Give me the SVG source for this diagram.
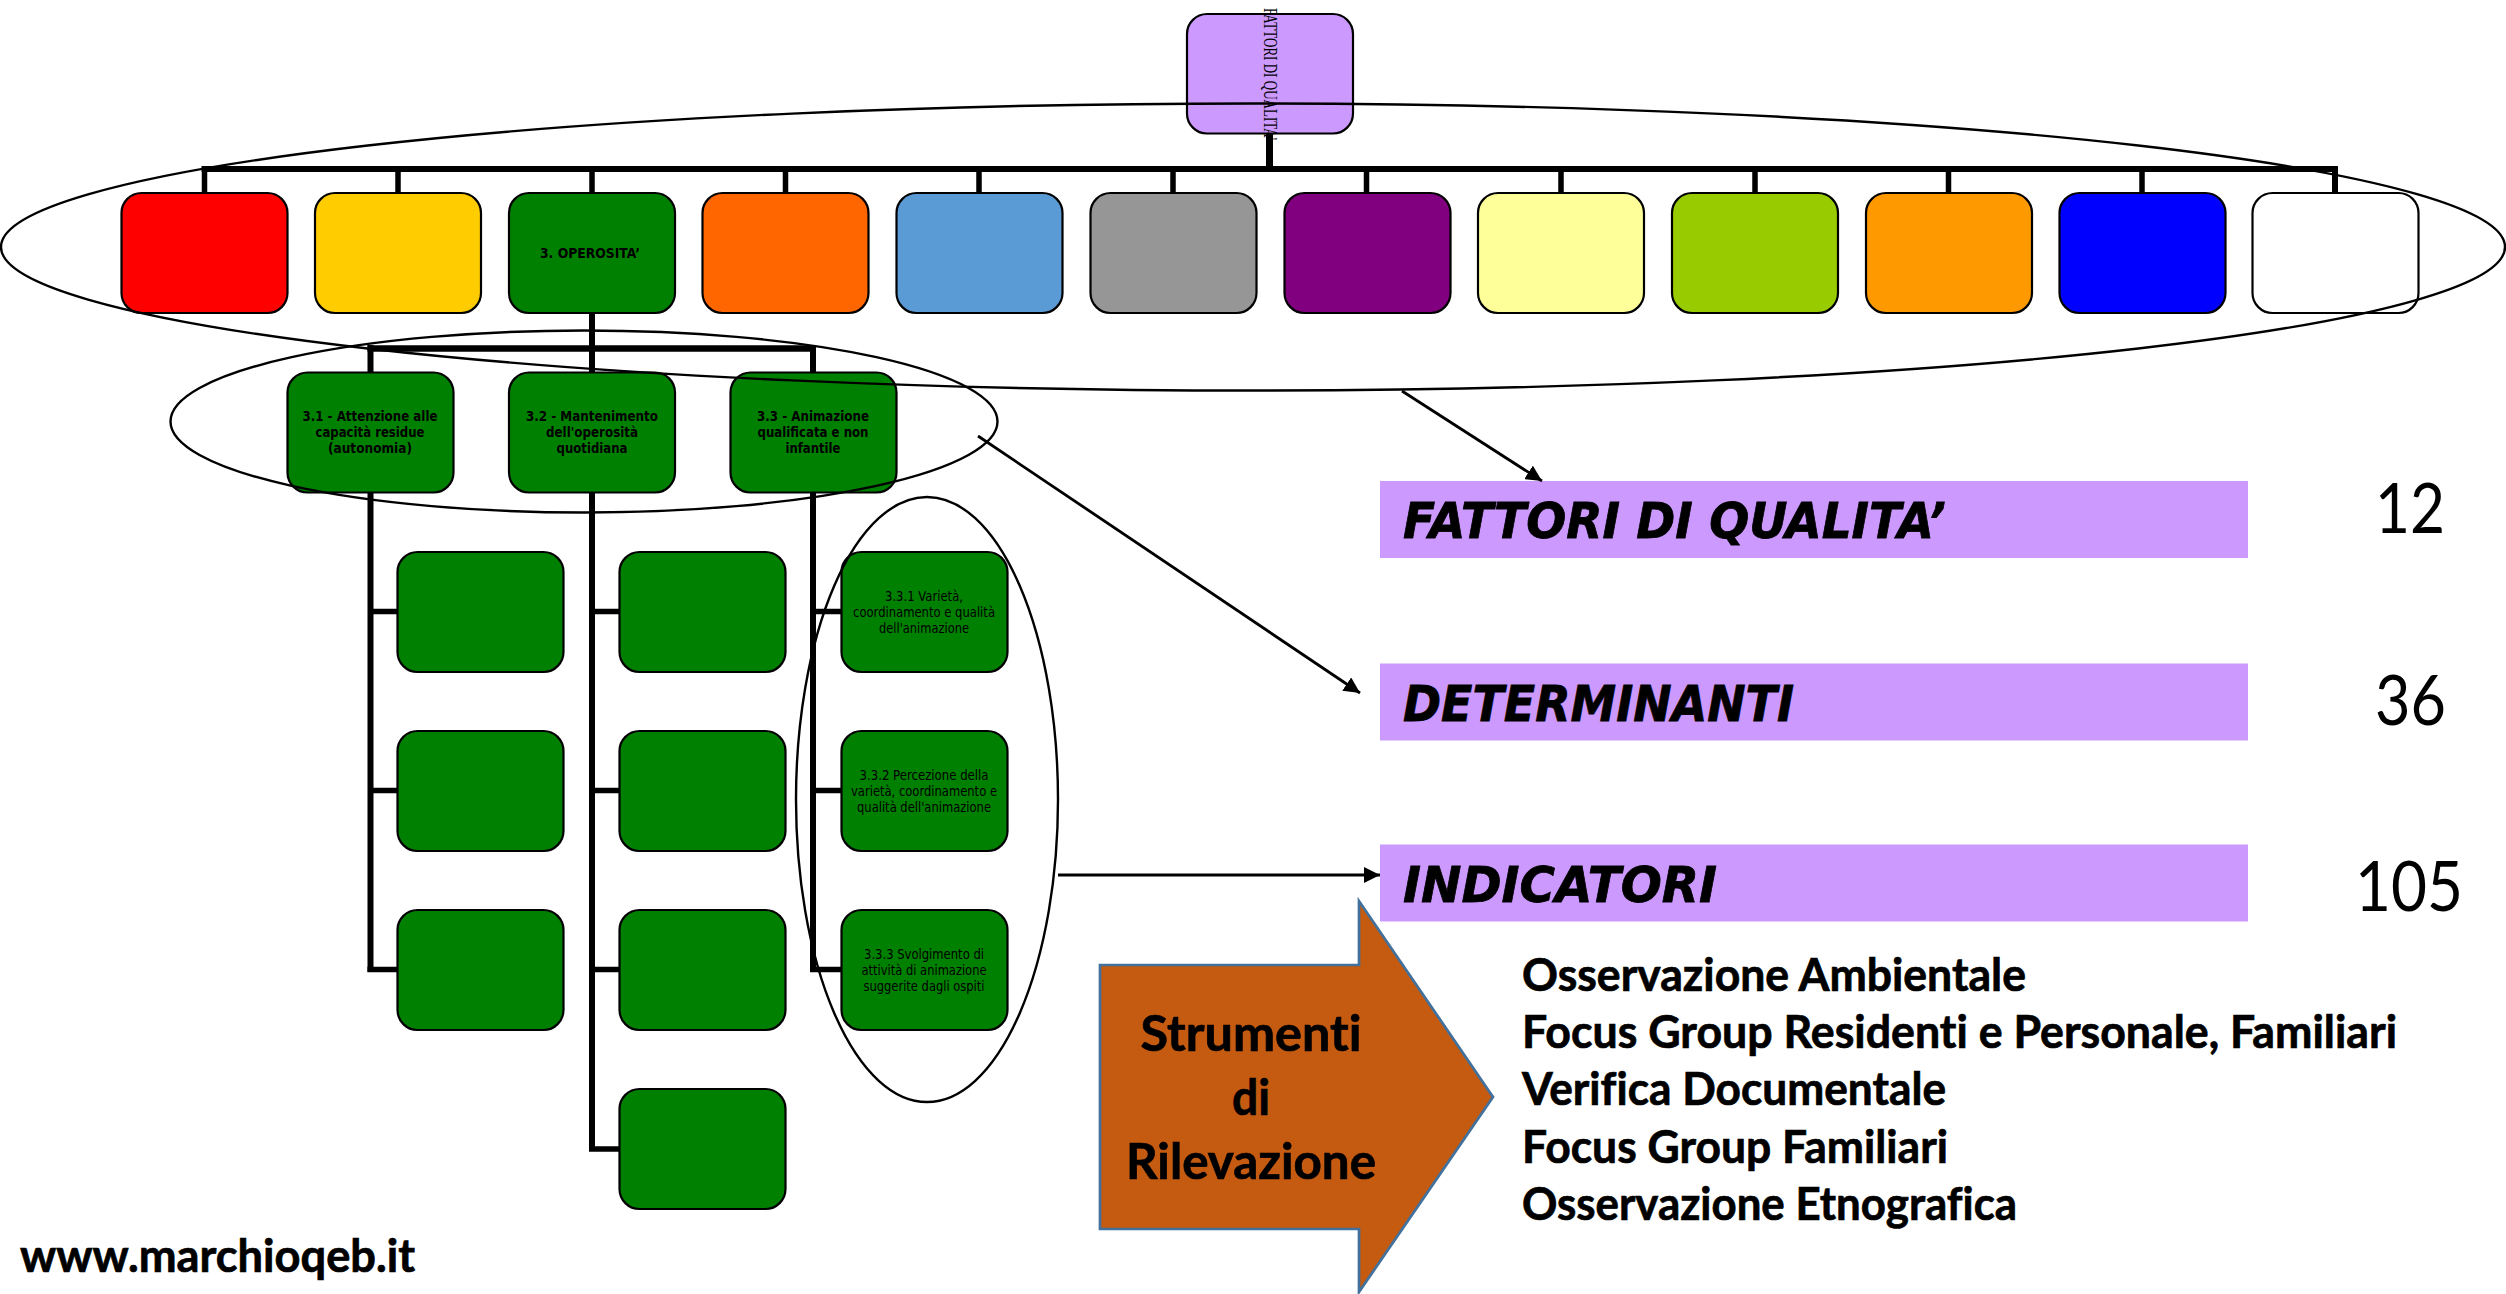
<svg xmlns="http://www.w3.org/2000/svg" width="2506" height="1294" viewBox="0 0 2506 1294">
<style>
.n{stroke:#000;stroke-width:2.2}
.g{fill:#008000}
.c{fill:none;stroke:#000;stroke-linecap:butt}
.e{fill:none;stroke:#000;stroke-width:2.4}
.a{fill:none;stroke:#000;stroke-width:2.8}
.b{fill:#CC99FF}
.vb,.v{font-family:"DejaVu Sans",Verdana,sans-serif;font-size:13.5px;fill:#000;text-anchor:middle}
.vb{font-weight:700}
.i{font-family:"DejaVu Sans",Verdana,sans-serif;font-weight:700;font-style:italic;font-size:49px;fill:#000;stroke:#000;stroke-width:.8}
.l{font-family:Lato,"Open Sans",sans-serif;font-weight:700;font-size:45px;fill:#000;stroke:#000;stroke-width:.7;font-variant-ligatures:none}
.s{font-family:Lato,"Open Sans",sans-serif;font-weight:700;font-size:49px;fill:#000;stroke:#000;stroke-width:.7;text-anchor:middle;font-variant-ligatures:none}
.d{font-family:Lato,"Open Sans",sans-serif;font-size:70px;fill:#000}
</style>
<defs>
<marker id="ah" markerUnits="userSpaceOnUse" markerWidth="18" markerHeight="16" refX="16" refY="8" orient="auto">
<path d="M0,0 L16,8 L0,16 Z" fill="#000"/>
</marker>
</defs>
<rect width="2506" height="1294" fill="#fff"/>

<g id="connectors">
<path class="c" stroke-width="7" d="M1269.500 133V172"/>
<path class="c" stroke-width="6" d="M201.500 169H2338"/>
<path class="c" stroke-width="5.500" d="M204.500 172V193M398 172V193M592 172V193M785.500 172V193M979 172V193M1173 172V193M1366.500 172V193M1561 172V193M1755 172V193M1948.500 172V193M2142 172V193"/>
<path class="c" stroke-width="6" d="M2335 172V193"/>
<path class="c" stroke-width="6" d="M592 312V372"/>
<path class="c" stroke-width="6.500" d="M367.500 348.500H816"/>
<path class="c" stroke-width="6" d="M370.500 345V372M813 345V372"/>
<path class="c" stroke-width="6" d="M370.500 492V972M592 492V1151M813 492V972"/>
<path class="c" stroke-width="5.500" d="M370.500 611.500H397M370.500 790.500H397M367.500 969.500H397M592 611.500H619M592 790.500H619M592 969.500H619M589 1149H619M813 611.500H841M813 790.500H841M810 969.500H841"/>
</g>

<g id="node-root"><rect class="n" x="1187" y="14" width="166" height="119.500" rx="20" fill="#CC99FF"/></g>
<g id="node-f1"><rect class="n" x="121.500" y="193" width="166" height="120" rx="20" fill="#FF0000"/></g>
<g id="node-f2"><rect class="n" x="315" y="193" width="166" height="120" rx="20" fill="#FFCC00"/></g>
<g id="node-f3"><rect class="n g" x="509" y="193" width="166" height="120" rx="20"/>
<text class="vb" x="590" y="258" textLength="100" lengthAdjust="spacingAndGlyphs">3. OPEROSITA’</text></g>
<g id="node-f4"><rect class="n" x="702.500" y="193" width="166" height="120" rx="20" fill="#FF6600"/></g>
<g id="node-f5"><rect class="n" x="896.500" y="193" width="166" height="120" rx="20" fill="#5B9BD5"/></g>
<g id="node-f6"><rect class="n" x="1090.500" y="193" width="166" height="120" rx="20" fill="#969696"/></g>
<g id="node-f7"><rect class="n" x="1284.500" y="193" width="166" height="120" rx="20" fill="#800080"/></g>
<g id="node-f8"><rect class="n" x="1478" y="193" width="166" height="120" rx="20" fill="#FFFF99"/></g>
<g id="node-f9"><rect class="n" x="1672" y="193" width="166" height="120" rx="20" fill="#99CC00"/></g>
<g id="node-f10"><rect class="n" x="1866" y="193" width="166" height="120" rx="20" fill="#FF9900"/></g>
<g id="node-f11"><rect class="n" x="2059.500" y="193" width="166" height="120" rx="20" fill="#0000FF"/></g>
<g id="node-f12"><rect class="n" x="2252.500" y="193" width="166" height="120" rx="20" fill="#FFFFFF"/></g>

<g id="node-3-1"><rect class="n g" x="287.500" y="372.500" width="166" height="120" rx="20"/>
<text class="vb" x="370" y="421" textLength="135" lengthAdjust="spacingAndGlyphs">3.1 - Attenzione alle</text>
<text class="vb" x="370" y="437" textLength="109" lengthAdjust="spacingAndGlyphs">capacità residue</text>
<text class="vb" x="370" y="453" textLength="84" lengthAdjust="spacingAndGlyphs">(autonomia)</text></g>
<g id="node-3-2"><rect class="n g" x="509" y="372.500" width="166" height="120" rx="20"/>
<text class="vb" x="592" y="421" textLength="132" lengthAdjust="spacingAndGlyphs">3.2 - Mantenimento</text>
<text class="vb" x="592" y="437" textLength="92" lengthAdjust="spacingAndGlyphs">dell'operosità</text>
<text class="vb" x="592" y="453" textLength="71" lengthAdjust="spacingAndGlyphs">quotidiana</text></g>
<g id="node-3-3"><rect class="n g" x="730.500" y="372.500" width="166" height="120" rx="20"/>
<text class="vb" x="813" y="421" textLength="112" lengthAdjust="spacingAndGlyphs">3.3 - Animazione</text>
<text class="vb" x="813" y="437" textLength="111" lengthAdjust="spacingAndGlyphs">qualificata e non</text>
<text class="vb" x="813" y="453" textLength="55" lengthAdjust="spacingAndGlyphs">infantile</text></g>

<g id="node-3-1-1"><rect class="n g" x="397.500" y="552" width="166" height="120" rx="20"/></g>
<g id="node-3-1-2"><rect class="n g" x="397.500" y="731" width="166" height="120" rx="20"/></g>
<g id="node-3-1-3"><rect class="n g" x="397.500" y="910" width="166" height="120" rx="20"/></g>
<g id="node-3-2-1"><rect class="n g" x="619.500" y="552" width="166" height="120" rx="20"/></g>
<g id="node-3-2-2"><rect class="n g" x="619.500" y="731" width="166" height="120" rx="20"/></g>
<g id="node-3-2-3"><rect class="n g" x="619.500" y="910" width="166" height="120" rx="20"/></g>
<g id="node-3-2-4"><rect class="n g" x="619.500" y="1089" width="166" height="120" rx="20"/></g>
<g id="node-3-3-1"><rect class="n g" x="841.500" y="552" width="166" height="120" rx="20"/>
<text class="v" x="924" y="601" textLength="78" lengthAdjust="spacingAndGlyphs">3.3.1 Varietà,</text>
<text class="v" x="924" y="617" textLength="142" lengthAdjust="spacingAndGlyphs">coordinamento e qualità</text>
<text class="v" x="924" y="633" textLength="90" lengthAdjust="spacingAndGlyphs">dell'animazione</text></g>
<g id="node-3-3-2"><rect class="n g" x="841.500" y="731" width="166" height="120" rx="20"/>
<text class="v" x="924" y="780" textLength="129" lengthAdjust="spacingAndGlyphs">3.3.2 Percezione della</text>
<text class="v" x="924" y="796" textLength="146" lengthAdjust="spacingAndGlyphs">varietà, coordinamento e</text>
<text class="v" x="924" y="812" textLength="134" lengthAdjust="spacingAndGlyphs">qualità dell'animazione</text></g>
<g id="node-3-3-3"><rect class="n g" x="841.500" y="910" width="166" height="120" rx="20"/>
<text class="v" x="924" y="959" textLength="120" lengthAdjust="spacingAndGlyphs">3.3.3 Svolgimento di</text>
<text class="v" x="924" y="975" textLength="125" lengthAdjust="spacingAndGlyphs">attività di animazione</text>
<text class="v" x="924" y="991" textLength="121" lengthAdjust="spacingAndGlyphs">suggerite dagli ospiti</text></g>

<g id="ellipses">
<ellipse class="e" cx="1253" cy="247" rx="1252" ry="143.500"/>
<ellipse class="e" cx="584" cy="421.500" rx="413.500" ry="91"/>
<ellipse class="e" cx="927" cy="799.500" rx="131" ry="302.500"/>
</g>

<text id="root-label" transform="translate(1264,8) rotate(90)" font-family="'Liberation Serif','Times New Roman',serif" font-size="18" fill="#000" textLength="132" lengthAdjust="spacingAndGlyphs">FATTORI DI QUALITA'</text>

<g id="node-fattori"><rect class="b" x="1380" y="481" width="868" height="77"/>
<text class="i" x="1403" y="538" textLength="543" lengthAdjust="spacingAndGlyphs">FATTORI DI QUALITA’</text></g>
<g id="node-determinanti"><rect class="b" x="1380" y="663.500" width="868" height="77"/>
<text class="i" x="1403" y="721" textLength="391" lengthAdjust="spacingAndGlyphs">DETERMINANTI</text></g>
<g id="node-indicatori"><rect class="b" x="1380" y="844.500" width="868" height="77"/>
<text class="i" x="1403" y="902" textLength="314" lengthAdjust="spacingAndGlyphs">INDICATORI</text></g>

<g id="arrows">
<path class="a" d="M1402 391L1542 481" marker-end="url(#ah)"/>
<path class="a" d="M978 436L1360 693" marker-end="url(#ah)"/>
<path class="a" d="M1058 875H1380" marker-end="url(#ah)"/>
</g>

<text class="d" x="2375" y="533" textLength="70" lengthAdjust="spacingAndGlyphs">12</text>
<text class="d" x="2375" y="725" textLength="71" lengthAdjust="spacingAndGlyphs">36</text>
<text class="d" x="2355" y="911" textLength="108" lengthAdjust="spacingAndGlyphs">105</text>

<g id="node-strumenti">
<path d="M1100 965H1359V901L1493 1097L1359 1292V1229H1100Z" fill="#C55A11" stroke="#41719C" stroke-width="2.700"/>
<text class="s" x="1251" y="1051" textLength="221" lengthAdjust="spacingAndGlyphs">Strumenti</text>
<text class="s" x="1251" y="1115" textLength="38" lengthAdjust="spacingAndGlyphs">di</text>
<text class="s" x="1251" y="1179" textLength="250" lengthAdjust="spacingAndGlyphs">Rilevazione</text>
</g>

<g id="list">
<text class="l" x="1522" y="991" textLength="504" lengthAdjust="spacingAndGlyphs">Osservazione Ambientale</text>
<text class="l" x="1522" y="1048" textLength="875" lengthAdjust="spacingAndGlyphs">Focus Group Residenti e Personale, Familiari</text>
<text class="l" x="1522" y="1105" textLength="424" lengthAdjust="spacingAndGlyphs">Verifica Documentale</text>
<text class="l" x="1522" y="1163" textLength="426" lengthAdjust="spacingAndGlyphs">Focus Group Familiari</text>
<text class="l" x="1522" y="1220" textLength="495" lengthAdjust="spacingAndGlyphs">Osservazione Etnografica</text>
</g>

<text class="l" x="20" y="1272" textLength="395" lengthAdjust="spacingAndGlyphs">www.marchioqeb.it</text>
</svg>
